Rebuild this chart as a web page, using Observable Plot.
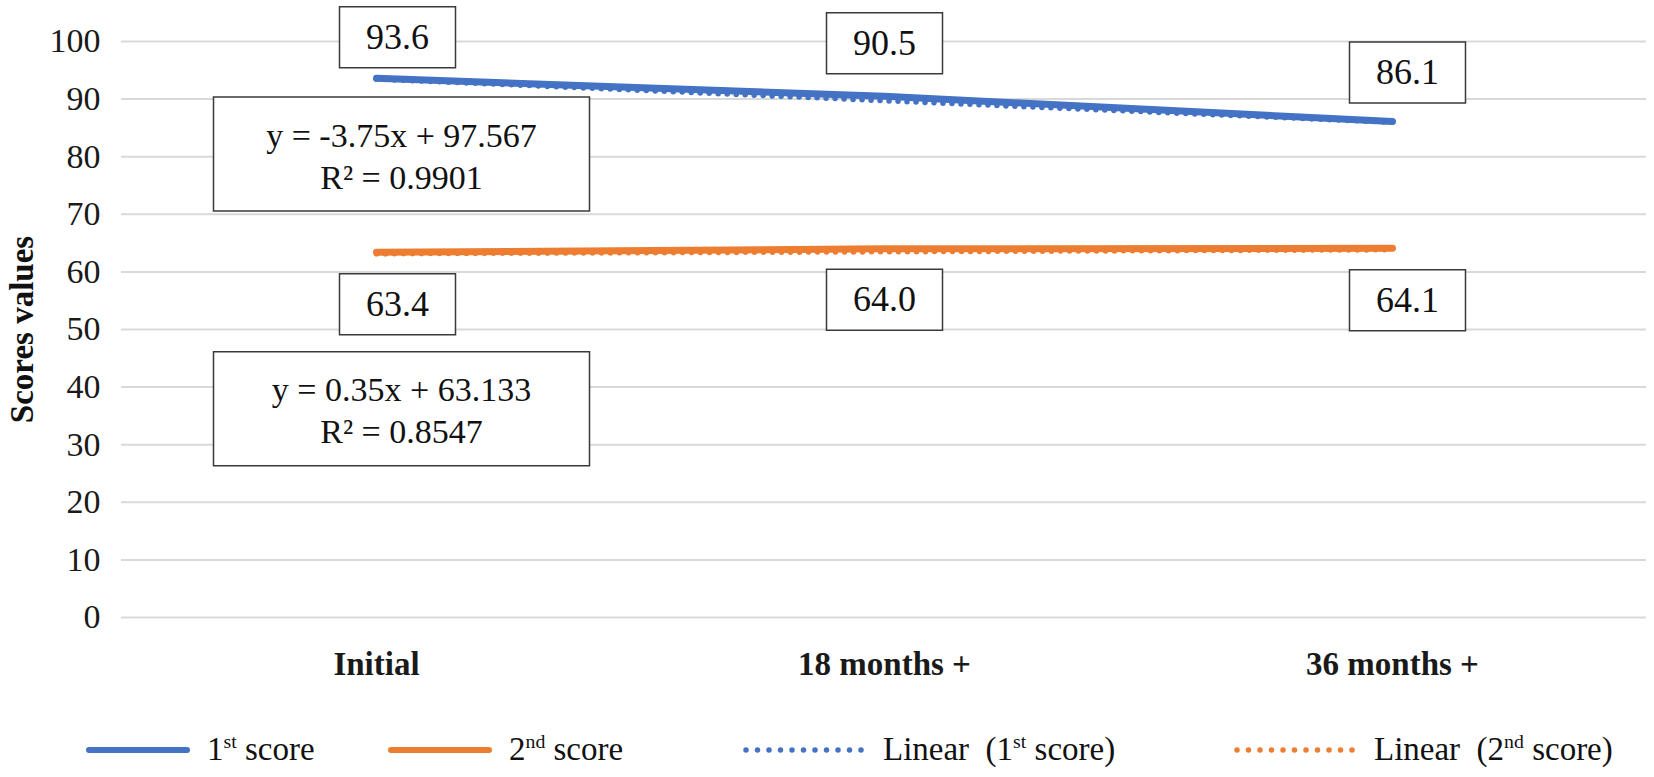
<!DOCTYPE html>
<html>
<head>
<meta charset="utf-8">
<script src="https://cdn.jsdelivr.net/npm/d3@7"></script>
<script src="https://cdn.jsdelivr.net/npm/@observablehq/plot@0.6"></script>
<style>
  body { margin: 0; background: #fff; font-family: "Liberation Serif", "DejaVu Serif", "Noto Serif", "Times New Roman", Times, serif; color: #1a1a1a; }
  #wrap { position: relative; width: 1654px; height: 777px; overflow: hidden; }
  #legend { position: absolute; left: 0; top: 722px; width: 1654px; height: 55px; font-size: 33px; color: #111; }
  .item { position: absolute; top: 0; height: 55px; display: flex; align-items: center; white-space: nowrap; }
  .item svg { display: block; }
  sup { font-size: 0.6em; vertical-align: 0; position: relative; top: -0.62em; }
  #chart svg text { font-family: "Liberation Serif", "DejaVu Serif", "Noto Serif", "Times New Roman", Times, serif !important; }
</style>
</head>
<body>
<div id="wrap">
  <div id="chart"></div>
  <div id="legend"></div>
</div>
<script>
// ---- data ----
const categories = ["Initial", "18 months +", "36 months +"];
const score1 = [93.6, 90.5, 86.1];
const score2 = [63.4, 64.0, 64.1];
const trend1 = [93.817, 90.067, 86.317];   // y = -3.75x + 97.567
const trend2 = [63.483, 63.833, 64.183];   // y = 0.35x + 63.133
const yTicks = [0, 10, 20, 30, 40, 50, 60, 70, 80, 90, 100];
const equation1 = "y = -3.75x + 97.567\nR² = 0.9901";
const equation2 = "y = 0.35x + 63.133\nR² = 0.8547";
const yTitle = "Scores values";
const seriesNames = ["1st score", "2nd score", "Linear (1st score)", "Linear (2nd score)"];

const BLUE = "#4472C4";
const ORANGE = "#ED7D31";
const FONT = "'Liberation Serif', 'DejaVu Serif', serif";

const rows1 = categories.map((c, i) => ({cat: c, v: score1[i]}));
const rows2 = categories.map((c, i) => ({cat: c, v: score2[i]}));
const tr1 = categories.map((c, i) => ({cat: c, v: trend1[i]}));
const tr2 = categories.map((c, i) => ({cat: c, v: trend2[i]}));

function rectSymbol(w, h) {
  return { draw(ctx) { ctx.rect(-w / 2, -h / 2, w, h); } };
}
const labelBox = rectSymbol(116, 61);
const eqBox = rectSymbol(376, 114);

// label box offsets (px) relative to the data point
const labelDx = [21, 0, 15];
const label1Dy = [-41, -53, -49];
const label2Dy = [52, 51, 52];

function labelMarks(rows, dys) {
  return rows.flatMap((r, i) => [
    Plot.dot([r], {x: "cat", y: "v", symbol: labelBox, fill: "white", stroke: "#3a3a3a", strokeWidth: 1.5, dx: labelDx[i], dy: dys[i]}),
    Plot.text([r], {x: "cat", y: "v", text: d => d.v.toFixed(1), dx: labelDx[i], dy: dys[i], fontSize: 36, fill: "#111"})
  ]);
}

const chart = Plot.plot({
  width: 1654,
  height: 722,
  marginLeft: 121,
  marginRight: 8,
  marginTop: 41,
  marginBottom: 105,
  style: {background: "white", color: "#1a1a1a"},
  x: {type: "point", domain: categories, padding: 0.5},
  y: {domain: [0, 100]},
  marks: [
    Plot.gridY(yTicks, {stroke: "#d9d9d9", strokeOpacity: 1, strokeWidth: 2}),
    Plot.axisY(yTicks, {tickSize: 0, tickPadding: 21, fontSize: 34, label: null}),
    Plot.axisX({tickSize: 0, tickPadding: 34, fontSize: 33, fontWeight: "bold", label: null}),
    Plot.text([yTitle], {text: d => d, frameAnchor: "left", dx: -99, rotate: -90, textAnchor: "middle", lineAnchor: "middle", fontSize: 33, fontWeight: "bold", fill: "#111"}),
    Plot.line(rows1, {x: "cat", y: "v", stroke: BLUE, strokeWidth: 7, strokeLinecap: "round", strokeLinejoin: "round"}),
    Plot.line(rows2, {x: "cat", y: "v", stroke: ORANGE, strokeWidth: 7, strokeLinecap: "round", strokeLinejoin: "round"}),
    Plot.line(tr1, {x: "cat", y: "v", stroke: BLUE, strokeWidth: 5.5, strokeLinecap: "round", strokeDasharray: "0 9", dy: 2}),
    Plot.line(tr2, {x: "cat", y: "v", stroke: ORANGE, strokeWidth: 5.5, strokeLinecap: "round", strokeDasharray: "0 9", dy: 2}),
    ...labelMarks(rows1, label1Dy),
    ...labelMarks(rows2, label2Dy),
    Plot.dot([tr1[0]], {x: "cat", y: "v", symbol: eqBox, fill: "white", stroke: "#3a3a3a", strokeWidth: 1.5, dx: 25, dy: 77}),
    Plot.text([tr1[0]], {x: "cat", y: "v", text: () => equation1, dx: 25, dy: 77, fontSize: 34, lineHeight: 1.24, lineAnchor: "middle", fill: "#111"}),
    Plot.dot([tr2[0]], {x: "cat", y: "v", symbol: eqBox, fill: "white", stroke: "#3a3a3a", strokeWidth: 1.5, dx: 25, dy: 157}),
    Plot.text([tr2[0]], {x: "cat", y: "v", text: () => equation2, dx: 25, dy: 157, fontSize: 34, lineHeight: 1.24, lineAnchor: "middle", fill: "#111"})
  ]
});
chart.style.fontFamily = FONT;
document.getElementById("chart").appendChild(chart);

// ---- legend ----
const legendItems = [
  {left: 86, color: BLUE, dotted: false, w: 104, html: '1<sup>st</sup> score'},
  {left: 388, color: ORANGE, dotted: false, w: 104, html: '2<sup>nd</sup> score'},
  {left: 743, color: BLUE, dotted: true, w: 127, html: 'Linear&nbsp; (1<sup>st</sup> score)'},
  {left: 1234, color: ORANGE, dotted: true, w: 127, html: 'Linear&nbsp; (2<sup>nd</sup> score)'}
];
const legend = document.getElementById("legend");
legendItems.forEach((it, i) => {
  const div = document.createElement("div");
  div.className = "item";
  div.style.left = it.left + "px";
  div.title = seriesNames[i];
  const dash = it.dotted ? 'stroke-dasharray="0 11.5"' : '';
  const sw = it.dotted ? 5.5 : 6;
  div.innerHTML = `<svg width="${it.w}" height="12"><line x1="3" y1="6" x2="${it.w - 3}" y2="6" stroke="${it.color}" stroke-width="${sw}" stroke-linecap="round" ${dash}/></svg><span style="margin-left:${it.dotted ? 13 : 17}px">${it.html}</span>`;
  legend.appendChild(div);
});
</script>
</body>
</html>
